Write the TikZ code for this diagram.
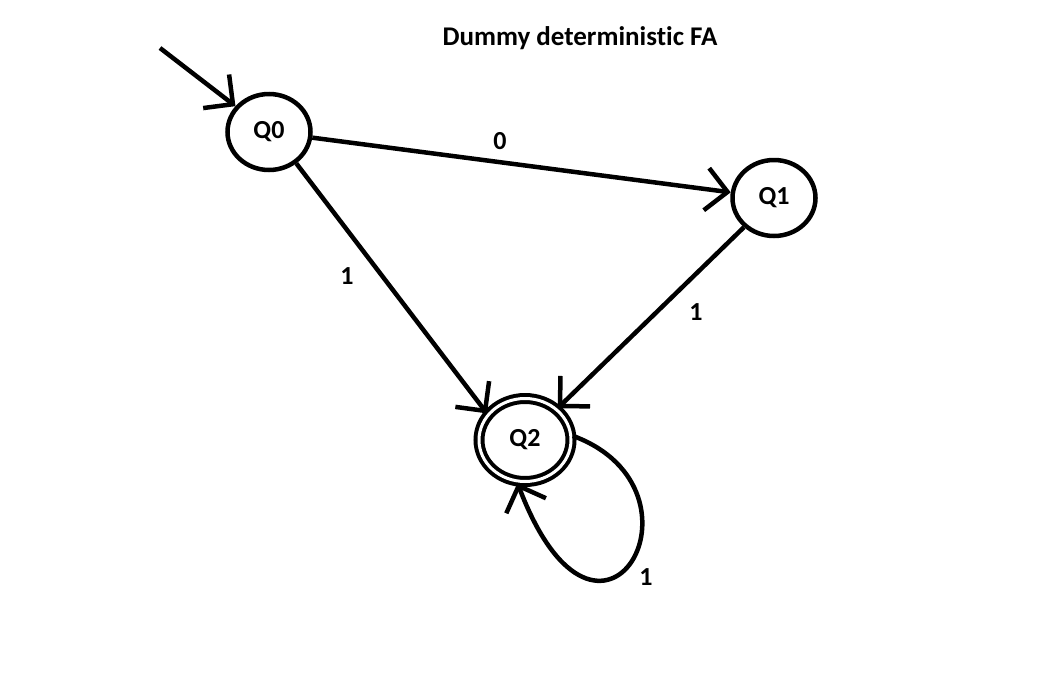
\documentclass[tikz,border=0pt]{standalone}
\usepackage{fontspec}
\setmainfont{Carlito}[Ligatures=NoCommon]
\usetikzlibrary{arrows.meta,shapes.geometric}
\tikzset{
  state/.style={draw, ellipse, line width=4.5pt, inner sep=0pt, minimum width=83pt, minimum height=76pt, font=\fontsize{26}{30}\selectfont\bfseries},
  accept/.style={state, line width=4pt, double, double distance=3pt, minimum width=92pt, minimum height=83pt},
  edge/.style={line width=4.5pt, -{Straight Barb[angle=90:30pt]}},
  lbl/.style={inner sep=0pt, font=\fontsize{26}{30}\selectfont\bfseries},
}
\begin{document}
\begin{tikzpicture}[x=1pt,y=-1pt]
\useasboundingbox (0,0) rectangle (1057,672);
\node[lbl, font=\fontsize{27}{30}\selectfont\bfseries] (title) at (580,38.5) {Dummy deterministic FA};
\node[state] (Q0) at (269,132) {Q0};
\node[state] (Q1) at (774,198) {Q1};
\node[accept] (Q2) at (525,440) {Q2};
\coordinate (start) at (160,48);
\draw[edge] (start) -- (Q0);
\draw[edge] (Q0) -- (Q1);
\draw[edge] (Q0.-49) -- (Q2.145);
\draw[edge] (Q1) -- (Q2);
\draw[edge] (Q2.5) .. controls (720,490) and (600,700) .. (Q2.-100);
\node[lbl] (l0) at (500,141) {0};
\node[lbl] (l1) at (347,276) {1};
\node[lbl] (l2) at (696,312) {1};
\node[lbl] (l3) at (646,577) {1};
\end{tikzpicture}
\end{document}
